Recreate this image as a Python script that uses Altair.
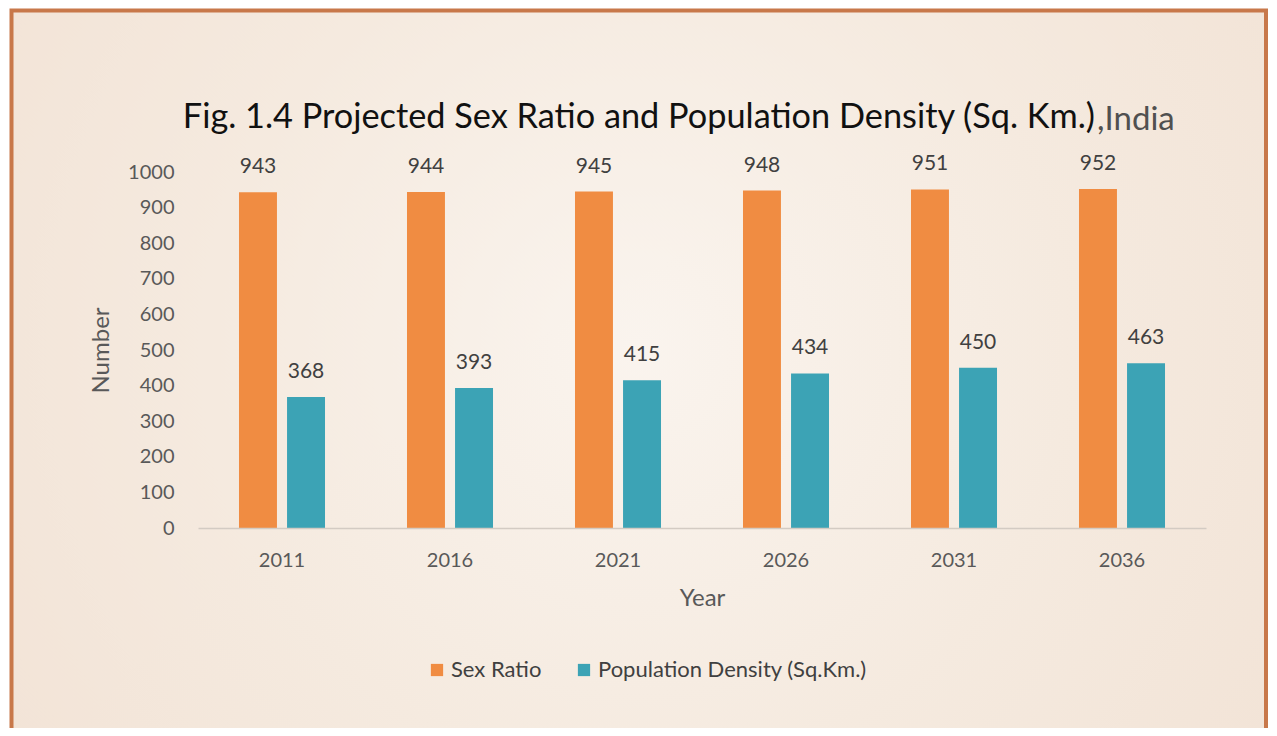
import altair as alt
import pandas as pd

# ---- data ----
years = ["2011", "2016", "2021", "2026", "2031", "2036"]
sex_ratio = [943, 944, 945, 948, 951, 952]
pop_density = [368, 393, 415, 434, 450, 463]
series_names = ["Sex Ratio", "Population Density (Sq.Km.)"]
series_colors = ["#F08C42", "#3CA3B5"]
y_ticks = [0, 100, 200, 300, 400, 500, 600, 700, 800, 900, 1000]
title_main = "Fig. 1.4 Projected Sex Ratio and Population Density (Sq. Km.)"
title_suffix = ",India"

rows = []
for i, yr in enumerate(years):
    rows.append({"Year": yr, "Series": series_names[0], "Value": sex_ratio[i]})
    rows.append({"Year": yr, "Series": series_names[1], "Value": pop_density[i]})
df = pd.DataFrame(rows)

W, H = 1008, 356
PAD = {"left": 190, "top": 164, "right": 63, "bottom": 200}
FONT = "Lato"

x_enc = alt.X(
    "Year:N", sort=years,
    scale=alt.Scale(paddingInner=0.488, paddingOuter=0.244),
    axis=alt.Axis(title="Year", labelAngle=0, ticks=False, domainColor="#d3cbc3",
                  domainWidth=1.5, labelFontSize=20, labelColor="#595959",
                  labelPadding=22, titleFontSize=24, titleColor="#595959",
                  titleFontWeight="normal", titlePadding=16, labelFont=FONT,
                  titleFont=FONT, zindex=1),
)
xo_enc = alt.XOffset("Series:N", sort=series_names,
                     scale=alt.Scale(domain=series_names, paddingInner=0.21, paddingOuter=0))
y_enc = alt.Y(
    "Value:Q", scale=alt.Scale(domain=[0, 1000], nice=False),
    axis=alt.Axis(values=y_ticks, format="d", labelOverlap=False, title="Number",
                  grid=False, ticks=False, domain=False,
                  labelFontSize=20, labelColor="#595959", labelPadding=24,
                  titleFontSize=24, titleFontWeight="normal", titleColor="#595959",
                  titlePadding=14, labelFont=FONT, titleFont=FONT, zindex=1),
)
color_enc = alt.Color(
    "Series:N", sort=series_names,
    scale=alt.Scale(domain=series_names, range=series_colors),
    legend=alt.Legend(title=None, orient="none", direction="horizontal",
                      legendX=228, legendY=487, symbolType="square", symbolSize=150,
                      symbolStrokeWidth=0, labelFontSize=22, labelColor="#404040",
                      columnPadding=31, labelOffset=3, labelFont=FONT, labelLimit=500,
                      zindex=1),
)

bg_df = pd.DataFrame({"k": [0]})
gradient = alt.RadialGradient(
    gradient="radial",
    stops=[alt.GradientStop(color="#faf4ee", offset=0),
           alt.GradientStop(color="#f5eadf", offset=0.55),
           alt.GradientStop(color="#f2e3d6", offset=1)],
    x1=0.5, y1=0.45, r1=0, x2=0.5, y2=0.45, r2=0.62,
)
bg = alt.Chart(bg_df).mark_rect(fill=gradient, stroke="#c8784a", strokeWidth=4).encode(
    x=alt.value(-186.5), x2=alt.value(1068), y=alt.value(-161.5), y2=alt.value(640)
)

bars = alt.Chart(df).mark_bar().encode(x=x_enc, xOffset=xo_enc, y=y_enc, color=color_enc)

labels = alt.Chart(df).mark_text(
    baseline="alphabetic", dy=-19, fontSize=21, color="#404040", font=FONT
).encode(x=x_enc, xOffset=xo_enc, y=y_enc, text="Value:Q")

t_df = pd.DataFrame({"main": [title_main], "suffix": [title_suffix]})
t1 = alt.Chart(t_df).mark_text(
    align="right", baseline="alphabetic", fontSize=34.3, color="#111111", font=FONT
).encode(text="main:N", x=alt.value(897), y=alt.value(-44))
t2 = alt.Chart(t_df).mark_text(
    align="left", baseline="alphabetic", fontSize=33, color="#505050", font=FONT
).encode(text="suffix:N", x=alt.value(899), y=alt.value(-42))

chart = alt.layer(bg, bars, labels, t1, t2).properties(
    width=W, height=H, padding=PAD, autosize=alt.AutoSizeParams(type="none")
).configure(background="white", font=FONT).configure_view(stroke=None)

chart.save("out.html", embed_options={"renderer": "svg", "actions": False})
